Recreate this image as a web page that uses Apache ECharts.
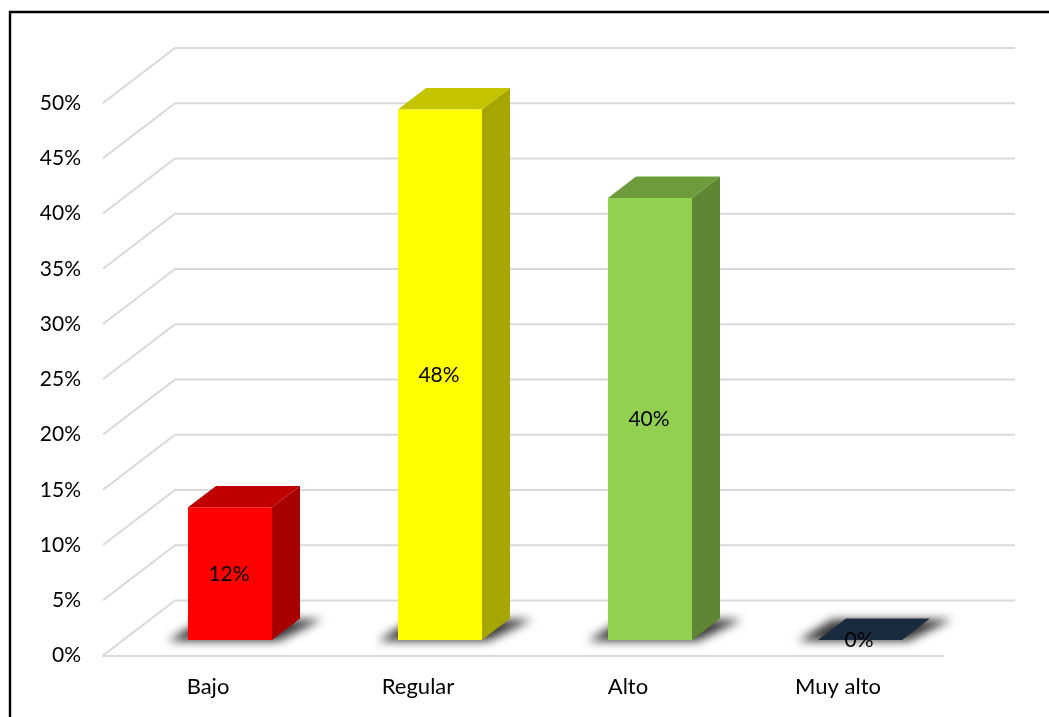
<!DOCTYPE html>
<html><head><meta charset="utf-8">
<style>html,body{margin:0;padding:0;background:#fff}#c{width:1049px;height:717px}</style>
<script src="https://cdn.jsdelivr.net/npm/echarts@6/dist/echarts.min.js"></script>
</head><body><div id="c"></div>
<script>
const categories = ['Bajo', 'Regular', 'Alto', 'Muy alto'];
const values = [12, 48, 40, 0];
const frontColors = ['#FF0000', '#FFFF00', '#92D050', '#1A2B3F'];
const topColors = ['#C00000', '#C4C400', '#6E9C3C', '#1A2B3F'];
const sideColors = ['#A60000', '#A6A600', '#5F8733', '#1A2B3F'];
const gridValues = [0, 5, 10, 15, 20, 25, 30, 35, 40, 45, 50];

const FONT = 'Lato, "Open Sans", sans-serif';
const WALL = [72, 55];
const BAR_FRONT = [22, 15.6];
const BAR_DEPTH = [28, 21.4];
const BAR_WIDTH = 84;
const FAR = 3000;

function renderGrid(params, api) {
  const v = api.value(1);
  const r = params.coordSys;
  const y = api.coord([0, v])[1];
  return {
    type: 'polyline', silent: true,
    shape: { points: [[r.x, y], [r.x + WALL[0], y - WALL[1]], [r.x + r.width + WALL[0], y - WALL[1]]] },
    style: { fill: null, stroke: '#D9D9D9', lineWidth: 2 }
  };
}

function renderBar(params, api) {
  const i = api.value(0), v = api.value(1);
  const base = api.coord([i, 0]), top = api.coord([i, v]);
  const x0 = base[0] + BAR_FRONT[0] - BAR_WIDTH / 2, x1 = x0 + BAR_WIDTH;
  const yb = base[1] - BAR_FRONT[1], yt = top[1] - BAR_FRONT[1];
  const dx = BAR_DEPTH[0], dy = BAR_DEPTH[1];
  const kids = [
    { type: 'polygon', silent: true,
      shape: { points: [[x0 - 20 - FAR, yb + 1], [x1 + 6 - FAR, yb + 1], [x1 + dx + 22 - FAR, yb - dy + 1], [x0 + dx - 14 - FAR, yb - dy + 1]] },
      style: { fill: '#000', shadowBlur: 10, shadowColor: '#3a3a3a', shadowOffsetX: FAR } }
  ];
  if (v > 0) {
    kids.push({ type: 'polygon', shape: { points: [[x1, yb], [x1 + dx, yb - dy], [x1 + dx, yt - dy], [x1, yt]] }, style: { fill: sideColors[i] } });
    kids.push({ type: 'polygon', shape: { points: [[x0, yt], [x1, yt], [x1 + dx, yt - dy], [x0 + dx, yt - dy]] }, style: { fill: topColors[i] } });
    kids.push({ type: 'rect', shape: { x: x0, y: yt, width: BAR_WIDTH, height: yb - yt }, style: { fill: frontColors[i] } });
  } else {
    kids.push({ type: 'polygon', shape: { points: [[x0, yb], [x1, yb], [x1 + dx, yb - dy], [x0 + dx, yb - dy]] }, style: { fill: topColors[i] } });
  }
  kids.push({ type: 'text', style: { x: (x0 + x1) / 2 - 1, y: (yb + yt) / 2 + 0.5, text: v + '%', align: 'center', verticalAlign: 'middle', fill: '#000', font: '21px ' + FONT } });
  return { type: 'group', children: kids };
}

const chart = echarts.init(document.getElementById('c'), null, { renderer: 'canvas' });
chart.setOption({
  animation: false,
  backgroundColor: '#fff',
  grid: { left: 103, right: 106, top: 103, bottom: 61.5 },
  xAxis: {
    type: 'category', data: categories,
    axisLine: { lineStyle: { color: '#D9D9D9', width: 2 } }, axisTick: { show: false },
    axisLabel: { color: '#000', fontFamily: 'Lato, "Open Sans", sans-serif', fontSize: 22, margin: 20 }
  },
  yAxis: {
    type: 'value', min: 0, max: 50, interval: 5,
    axisLine: { show: false }, axisTick: { show: false }, splitLine: { show: false },
    axisLabel: { color: '#000', fontFamily: 'Lato, "Open Sans", sans-serif', fontSize: 21, margin: 22, padding: [2, 0, 0, 0], formatter: '{value}%' }
  },
  graphic: [
    { type: 'polyline', shape: { points: [[10, 717], [10, 12], [1049, 12]] }, style: { fill: null, stroke: '#000', lineWidth: 2.4 }, silent: true }
  ],
  series: [
    { type: 'custom', z: 1, renderItem: renderGrid, data: gridValues.map(v => [0, v]), silent: true, clip: false },
    { type: 'custom', z: 2, renderItem: renderBar, data: values.map((v, i) => [i, v]), silent: true, clip: false }
  ]
});
</script></body></html>
